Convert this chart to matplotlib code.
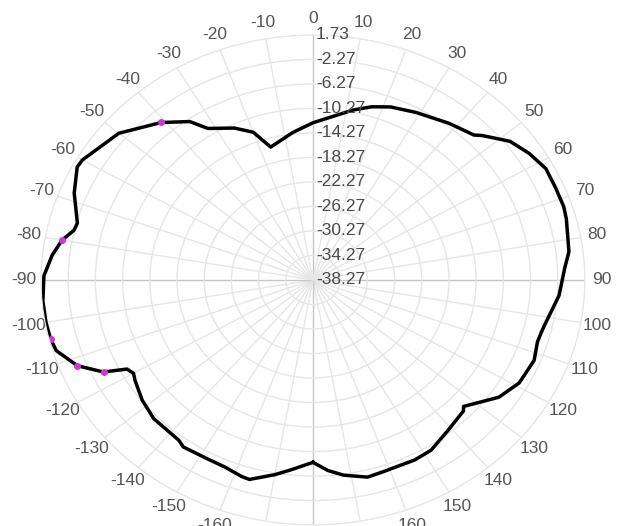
import matplotlib
matplotlib.use("Agg")

import numpy as np
import matplotlib.pyplot as plt

# Diagrama de radiação (dB)
angles_deg = [-180, -174, -170, -164, -162, -157, -152, -145, -143, -134,
              -128, -122, -120, -118, -116, -112, -107, -104, -100, -95,
              -89, -84, -80, -77, -75, -68, -62, -60, -50, -44,
              -41, -35, -32, -25, -20, -16, -7, 0, 12, 17,
              22, 29, 38, 45, 46.5, 52, 57, 62, 67, 72,
              75, 83, 87, 94, 102, 104, 107, 112, 119, 125,
              133, 134, 141, 148, 153, 162, 166, 172, 176, 180]
gain_db = [-8.5, -7.1, -6.0, -4.4, -4.5, -5.1, -5.2, -5.0, -5.5, -5.7,
           -6.4, -7.4, -7.8, -7.3, -4.0, -0.9, 1.2, 1.5, 1.6, 1.6,
           1.3, 0.3, -0.8, -2.2, -2.4, -0.4, 1.0, 0.9, -1.0, -3.3,
           -4.2, -6.7, -9.1, -10.9, -12.6, -15.7, -14.0, -12.6, -9.9, -8.7,
           -7.8, -7.0, -5.8, -4.8, -4.0, -1.5, -0.35, 0.5, 0.45, 0.5,
           0.3, -0.35, -1.2, -2.0, -3.4, -3.6, -3.75, -3.2, -3.6, -4.9,
           -8.0, -7.5, -6.7, -5.5, -5.3, -5.3, -5.1, -6.1, -7.1, -8.5]

# pontos em magenta
marker_angles = [-41, -80, -104, -112, -116]
marker_gain = [-4.2, -0.8, 1.5, -0.9, -4.0]

r_ticks = [-38.27, -34.27, -30.27, -26.27, -22.27, -18.27,
           -14.27, -10.27, -6.27, -2.27, 1.73]
r_labels = ["-38.27", "-34.27", "-30.27", "-26.27", "-22.27", "-18.27",
            "-14.27", "-10.27", "-6.27", "-2.27", "1.73"]

theta_ticks = list(range(0, 360, 10))
theta_labels = ["0", "10", "20", "30", "40", "50", "60", "70", "80", "90",
                "100", "110", "120", "130", "140", "150", "160", "170", "180",
                "-170", "-160", "-150", "-140", "-130", "-120", "-110", "-100",
                "-90", "-80", "-70", "-60", "-50", "-40", "-30", "-20", "-10"]

plt.rcParams['font.family'] = ['Liberation Sans', 'DejaVu Sans']

fig = plt.figure(figsize=(6.18, 5.26), dpi=100)
ax = fig.add_axes([0.0663, 0.0019, 0.8803, 0.9316], projection='polar')
ax.set_aspect('auto')
ax.set_theta_zero_location('N')
ax.set_theta_direction(-1)
ax.set_ylim(-38.27, 1.73)

ax.set_yticks(r_ticks)
ax.set_yticklabels([])
ax.set_thetagrids(theta_ticks, theta_labels, fontsize=12.5, color='#555555')
ax.tick_params(axis='x', pad=1.5)

ax.grid(color='#e6e6e6', lw=1)
for t, gl in zip(theta_ticks, ax.xaxis.get_gridlines()):
    if t % 90 == 0:
        gl.set_color('#c6c6c6')
ax.spines['polar'].set_color('#e6e6e6')

ax.plot(np.radians(angles_deg), gain_db, color='black', lw=2.5)
ax.plot(np.radians(marker_angles), marker_gain, 'o', color='#d535d5', ms=4)

for r, lab in zip(r_ticks, r_labels):
    ax.annotate(lab, xy=(0, r), xytext=(2, 0), textcoords='offset points',
                ha='left', va='center', fontsize=12.5, color='#4a4a4a',
                annotation_clip=False)

fig.savefig("out.png", dpi=100)
